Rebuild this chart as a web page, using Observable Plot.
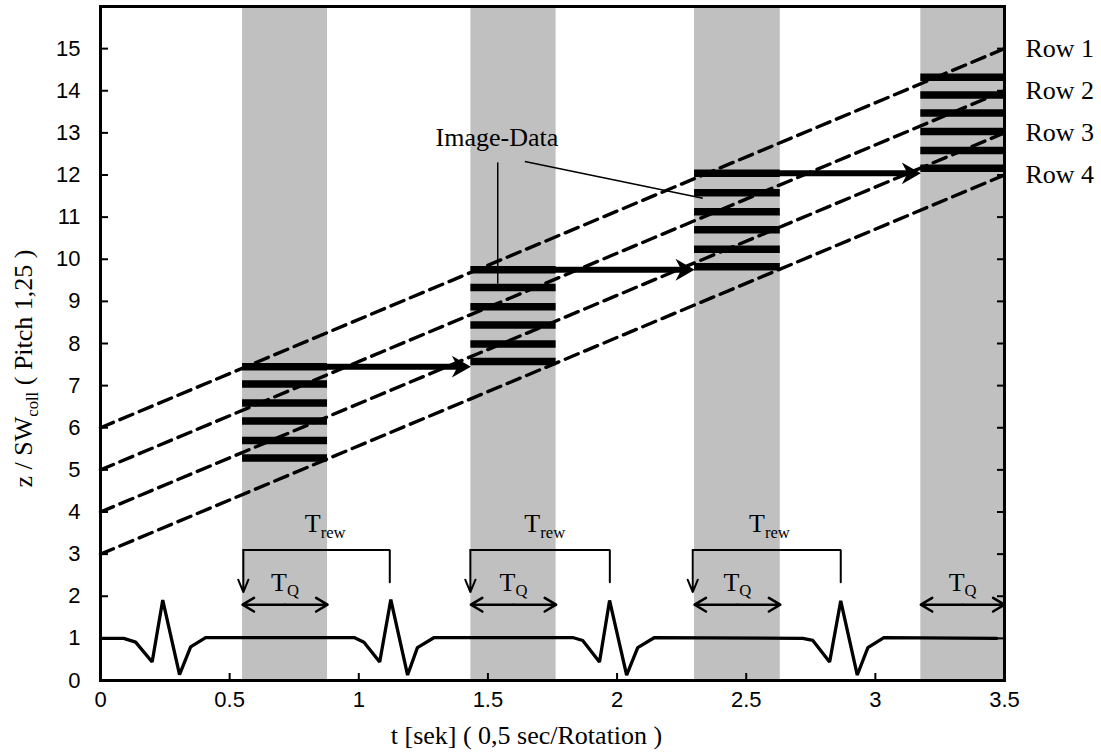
<!DOCTYPE html>
<html><head><meta charset="utf-8">
<script src="https://cdn.jsdelivr.net/npm/d3@7"></script>
<script src="https://cdn.jsdelivr.net/npm/@observablehq/plot@0.6"></script>
<style>
html,body{margin:0;padding:0;background:#fff;}
#chart svg{display:block;}
</style></head><body><div id="chart"></div>
<script>
// ---- data ----
const xTicks = [0, 0.5, 1, 1.5, 2, 2.5, 3, 3.5];
const yTicks = [0, 1, 2, 3, 4, 5, 6, 7, 8, 9, 10, 11, 12, 13, 14, 15];
const rows = ["Row 1", "Row 2", "Row 3", "Row 4"];
const rowT = [0, 3.5];
const rowStartZ = [6, 5, 4, 3];
const rowEndZ = [15, 14, 13, 12];
const bandStart = [0.55, 1.434, 2.30, 3.176];
const bandEnd = [0.879, 1.764, 2.632, 3.5];
const imageData = [
  [5.28, 5.70, 6.16, 6.59, 7.04, 7.45],
  [7.57, 7.99, 8.44, 8.87, 9.33, 9.75],
  [9.82, 10.24, 10.70, 11.13, 11.58, 12.04],
  [12.16, 12.58, 13.03, 13.47, 13.90, 14.32]
];
const tableArrowZ = [7.45, 9.75, 12.04];
const ecgT = [0, 0.090, 0.136, 0.200, 0.241, 0.306, 0.349, 0.407,
  0.982, 1.020, 1.081, 1.124, 1.189, 1.227, 1.292,
  1.828, 1.867, 1.932, 1.971, 2.037, 2.080, 2.145,
  2.719, 2.758, 2.823, 2.866, 2.930, 2.971, 3.033, 3.47];
const ecgZ = [1.0, 1.0, 0.91, 0.44, 1.91, 0.14, 0.80, 1.02,
  1.02, 0.91, 0.44, 1.92, 0.13, 0.78, 1.02,
  1.02, 0.95, 0.44, 1.90, 0.13, 0.78, 1.02,
  1.0, 0.95, 0.44, 1.89, 0.13, 0.78, 1.02, 1.0];
const trewLeft = [0.553, 1.432, 2.293];
const trewRight = [1.12, 1.972, 2.866];
const trewTopZ = 3.10;
const trewTipZ = 2.10;
const trewRightEndZ = 2.33;
const trewLabelT = [0.87, 1.72, 2.59];
const trewLabelZ = 3.72;
const tqArrowZ = 1.80;
const tqLabelZ = 2.33;
const imgLabel = "Image-Data";
const imgLabelT = 1.535, imgLabelZ = 12.88;
const leaderT1 = [1.538, 1.643], leaderZ1 = [12.30, 12.32];
const leaderT2 = [1.538, 2.332], leaderZ2 = [9.42, 11.45];
const xLabel = "t [sek] ( 0,5 sec/Rotation )";
const yLabel = "z / SW_coll ( Pitch 1,25 )";

// ---- derived tables ----
const bands = bandStart.map((s, i) => ({s, e: bandEnd[i], mid: (s + bandEnd[i]) / 2}));
const rowLines = rows.flatMap((r, i) => [
  {row: r, t: rowT[0], z: rowStartZ[i]},
  {row: r, t: rowT[1], z: rowEndZ[i]}
]);
const rowLabels = rows.map((r, i) => ({row: r, t: rowT[1], z: rowEndZ[i]}));
const bars = imageData.flatMap((vals, i) => vals.map(z => ({t1: bandStart[i], t2: bandEnd[i], z})));
const moves = tableArrowZ.map((z, i) => ({t1: bandEnd[i], t2: bandStart[i + 1], z}));
const ecg = ecgT.map((t, i) => ({t, z: ecgZ[i]}));
const brackets = trewLeft.flatMap((l, i) => [
  {k: i, t: l, z: trewTopZ},
  {k: i, t: trewRight[i], z: trewTopZ},
  {k: i, t: trewRight[i], z: trewRightEndZ}
]);
const trewArrows = trewLeft.map(l => ({t: l, z1: trewTopZ, z2: trewTipZ}));
const tqArrows = bands.flatMap(b => [{t1: b.mid, t2: b.s}, {t1: b.mid, t2: b.e}]);
const trewLabels = trewLabelT.map(t => ({t, z: trewLabelZ}));
const leaders = leaderT1.map((t, i) => ({t1: t, z1: leaderZ1[i], t2: leaderT2[i], z2: leaderZ2[i]}));

// filled barbed arrowhead, tip at origin pointing right
const headSymbol = {
  draw(ctx, size) {
    const r = Math.sqrt(size / Math.PI);
    ctx.moveTo(0, 0);
    ctx.lineTo(-2 * r, -1.15 * r);
    ctx.lineTo(-1.4 * r, 0);
    ctx.lineTo(-2 * r, 1.15 * r);
    ctx.closePath();
  }
};

const serif = "Liberation Serif, Times New Roman, serif";
const sfs = 26;

const chart = Plot.plot({
  width: 1101,
  height: 755,
  marginLeft: 100,
  marginRight: 97,
  marginTop: 6,
  marginBottom: 75,
  style: {fontFamily: "Liberation Sans, Arial, sans-serif", fontSize: "22px", background: "white", color: "black"},
  x: {domain: [0, 3.5], axis: null},
  y: {domain: [0, 16], axis: null},
  marks: [
    Plot.rectX(bands, {x1: "s", x2: "e", fill: "#c0c0c0"}),
    Plot.line(rowLines, {x: "t", y: "z", z: "row", stroke: "black", strokeWidth: 3.4, strokeDasharray: "14,7"}),
    Plot.ruleY(bars, {x1: "t1", x2: "t2", y: "z", stroke: "black", strokeWidth: 7.5}),
    Plot.arrow(moves, {x1: "t1", x2: "t2", y1: "z", y2: "z", stroke: "black", strokeWidth: 6, headLength: 0, insetEnd: 10}),
    Plot.dot(moves, {x: "t2", y: "z", symbol: headSymbol, r: 9.5, fill: "black", stroke: null}),
    Plot.line(ecg, {x: "t", y: "z", stroke: "black", strokeWidth: 3.3, strokeLinejoin: "miter"}),
    Plot.line(brackets, {x: "t", y: "z", z: "k", stroke: "black", strokeWidth: 2, strokeLinejoin: "miter"}),
    Plot.arrow(trewArrows, {x: "t", y1: "z1", y2: "z2", stroke: "black", strokeWidth: 2, headLength: 10, headAngle: 45}),
    Plot.arrow(tqArrows, {x1: "t1", x2: "t2", y1: () => tqArrowZ, y2: () => tqArrowZ, stroke: "black", strokeWidth: 2.5, headLength: 8, headAngle: 62}),
    Plot.link(leaders, {x1: "t1", y1: "z1", x2: "t2", y2: "z2", stroke: "black", strokeWidth: 1.5}),
    Plot.text(trewLabels, {x: "t", y: "z", text: () => "T_rew", fontFamily: serif, fontSize: sfs}),
    Plot.text(bands, {x: "mid", y: () => tqLabelZ, text: () => "T_Q", fontFamily: serif, fontSize: sfs}),
    Plot.text([imgLabel], {x: () => imgLabelT, y: () => imgLabelZ, text: d => d, fontFamily: serif, fontSize: sfs}),
    Plot.text(rowLabels, {x: "t", y: "z", text: "row", textAnchor: "start", dx: 21, fontFamily: serif, fontSize: sfs}),
    Plot.frame({stroke: "black", strokeWidth: 3}),
    // inward ticks: outward ticks shifted into the frame
    Plot.axisY(yTicks, {anchor: "left", tickSize: 8, dx: 8, strokeWidth: 2, fill: "none", label: null}),
    Plot.axisY(yTicks, {anchor: "right", tickSize: 8, dx: -8, strokeWidth: 2, fill: "none", label: null}),
    Plot.axisX(xTicks, {anchor: "bottom", tickSize: 7, dy: -7, strokeWidth: 2, fill: "none", label: null}),
    Plot.axisY(yTicks, {anchor: "left", tickSize: 0, tickPadding: 20, fontSize: 22, label: null}),
    Plot.axisX(xTicks, {anchor: "bottom", tickSize: 0, tickPadding: 11, fontSize: 22, label: null, tickFormat: d => String(d)}),
    Plot.text([xLabel], {frameAnchor: "bottom", textAnchor: "middle", lineAnchor: "middle", text: d => d, dy: 55, dx: -26, fontFamily: serif, fontSize: sfs}),
    Plot.text([yLabel], {frameAnchor: "left", textAnchor: "middle", lineAnchor: "middle", text: d => d, rotate: -90, dx: -77, dy: 25, fontFamily: serif, fontSize: sfs})
  ]
});
document.getElementById("chart").appendChild(chart);

// render "_xxx" as subscripts
d3.select(chart).selectAll("text").each(function () {
  const el = d3.select(this);
  if (el.selectAll("tspan").size()) return;
  const s = el.text();
  const m = s.match(/^(.*?)_(\w+)(.*)$/);
  if (!m) return;
  const fs = parseFloat(getComputedStyle(this).fontSize) || sfs;
  const shift = fs * 0.22;
  el.text(null);
  el.append("tspan").text(m[1]);
  el.append("tspan").attr("dy", shift).attr("font-size", fs * 0.64).text(m[2]);
  if (m[3]) el.append("tspan").attr("dy", -shift).text(m[3]);
});
</script>
</body></html>
